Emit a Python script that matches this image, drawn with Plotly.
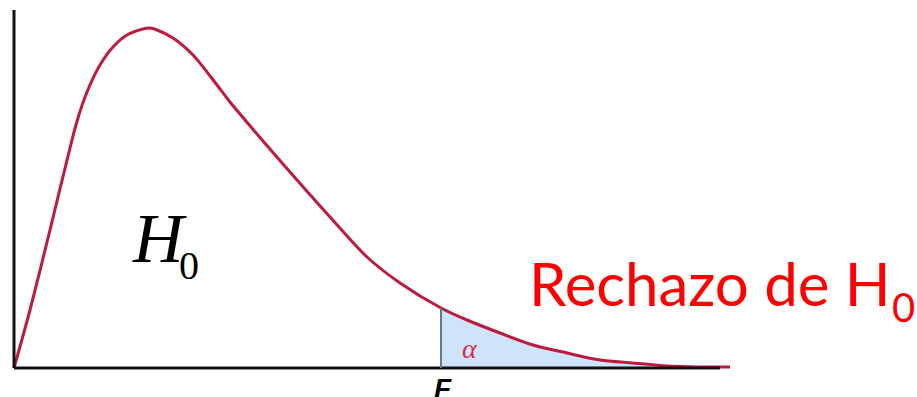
import plotly.graph_objects as go

# Density curve of the test statistic, read point by point (F value, density)
f_values = [0.00, 0.16, 0.36, 0.56, 0.63, 0.73, 0.86, 0.99, 1.13, 1.29, 1.36, 1.43,
            1.59, 1.79, 2.03, 2.16, 2.49, 2.83, 3.16, 3.53, 3.86, 4.27, 4.53,
            4.86, 5.19, 5.53, 5.86, 6.19, 6.53, 6.86, 7.16]
density = [0.000, 0.145, 0.345, 0.550, 0.617, 0.690, 0.7575, 0.8025, 0.8325, 0.8475, 0.850, 0.845,
           0.825, 0.7825, 0.7075, 0.665, 0.5675, 0.470, 0.3775, 0.2775, 0.2125, 0.150, 0.120,
           0.0875, 0.0575, 0.0375, 0.020, 0.0125, 0.005, 0.0025, 0.0025]

f_critical = 4.27          # critical value, start of the rejection region
axis_end = 7.06            # length of the horizontal axis
axis_top = 0.895           # height of the vertical axis

# Tail (rejection region) taken from the same points
tail_x = [x for x in f_values if x >= f_critical]
tail_y = [y for x, y in zip(f_values, density) if x >= f_critical]
crit_y = density[f_values.index(f_critical)]

line_color = "#bd1a40"
curve_shape = dict(shape="spline", smoothing=0.8)

fig = go.Figure()

fig.add_trace(go.Scatter(
    x=tail_x, y=tail_y, mode="none", fill="tozeroy",
    fillcolor="#cde4fa", hoverinfo="skip", showlegend=False,
    line=curve_shape,
))

# Axes drawn as lines
fig.add_shape(type="line", x0=0, x1=axis_end, y0=0, y1=0,
              line=dict(color="#111111", width=3))
fig.add_shape(type="line", x0=0, x1=0, y0=0, y1=axis_top,
              line=dict(color="#111111", width=3))
fig.add_shape(type="line", x0=f_critical, x1=f_critical, y0=0, y1=crit_y,
              line=dict(color="#5f7a96", width=2))

fig.add_trace(go.Scatter(
    x=f_values, y=density, mode="lines",
    line=dict(color=line_color, width=3, **curve_shape),
    hoverinfo="skip", showlegend=False,
))

annotations = [
    dict(x=1.16, y=0.325, text="<i>H</i>", xanchor="left", yanchor="middle",
         font=dict(family="Liberation Serif", size=70, color="black")),
    dict(x=1.63, y=0.2575, text="0", xanchor="left", yanchor="middle",
         font=dict(family="Liberation Serif", size=40, color="black")),
    dict(x=5.13, y=0.212, text="Rechazo de H", xanchor="left", yanchor="middle",
         font=dict(family="Lato", size=60, color="#ff0000")),
    dict(x=8.76, y=0.1525, text="0", xanchor="left", yanchor="middle",
         font=dict(family="Lato", size=40, color="#ff0000")),
    dict(x=4.56, y=0.048, text="<i>α</i>", xanchor="center", yanchor="middle",
         font=dict(family="Liberation Serif", size=28, color="#d0304a")),
    dict(x=4.285, y=-0.0075, text="<b><i>F</i></b>", xanchor="center", yanchor="top",
         font=dict(family="Liberation Sans", size=28, color="black")),
]
for a in annotations:
    a.update(xref="x", yref="y", showarrow=False)
fig.update_layout(annotations=annotations)

fig.update_layout(
    width=917, height=397,
    margin=dict(l=0, r=0, t=0, b=0),
    paper_bgcolor="white", plot_bgcolor="white",
    xaxis=dict(range=[-0.14, 9.03], visible=False, fixedrange=True),
    yaxis=dict(range=[-0.0725, 0.92], visible=False, fixedrange=True),
)

fig.write_html("out.html")
